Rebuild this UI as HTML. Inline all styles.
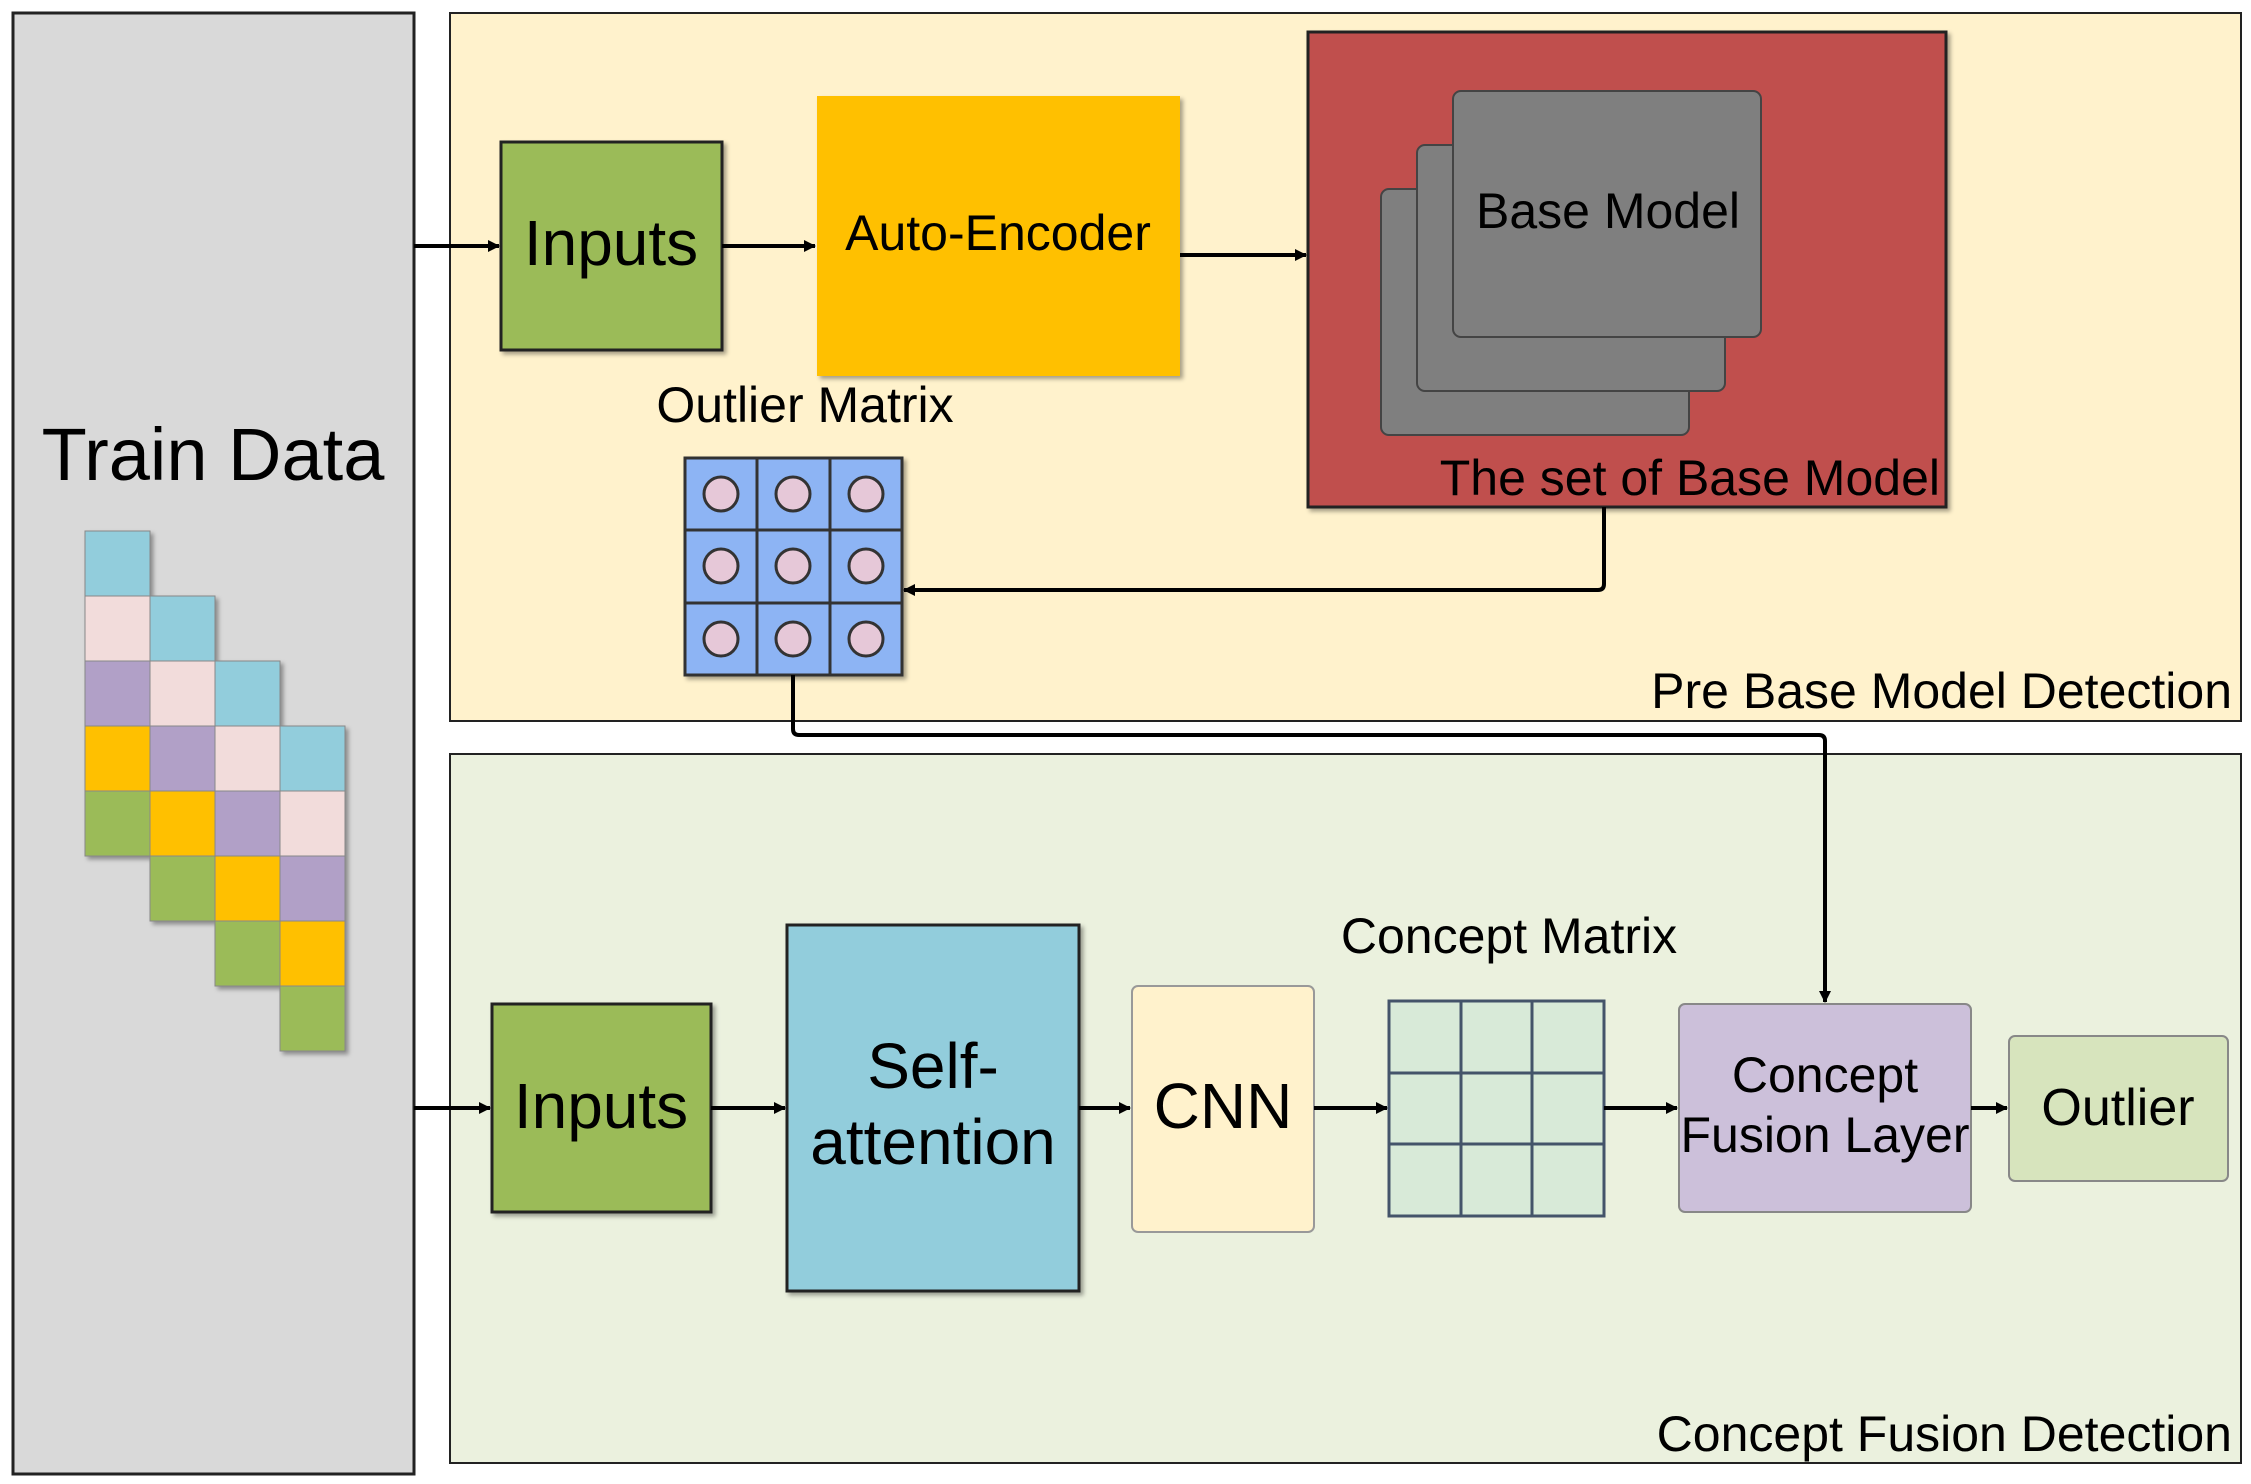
<!DOCTYPE html>
<html><head><style>body{margin:0;background:#fff}svg{display:block}text{font-family:"Liberation Sans",sans-serif;fill:#000}</style></head><body>
<svg width="2251" height="1484" viewBox="0 0 2251 1484" xmlns="http://www.w3.org/2000/svg">
<defs>
<marker id="a" markerWidth="12" markerHeight="12" refX="11" refY="6" orient="auto" markerUnits="userSpaceOnUse"><path d="M0,0 L12,6 L0,12 z" fill="#000"/></marker>
<filter id="s" x="-5%" y="-5%" width="115%" height="115%"><feDropShadow dx="3" dy="3" stdDeviation="2" flood-opacity="0.35"/></filter>
</defs>
<rect x="13" y="13" width="401" height="1461" fill="#d9d9d9" stroke="#222" stroke-width="3"/>
<text x="213" y="480" font-size="74" text-anchor="middle">Train Data</text>
<g stroke="#888" stroke-width="1" filter="url(#s)">
<rect x="85" y="531" width="65" height="65" fill="#92cddc"/><rect x="85" y="596" width="65" height="65" fill="#f2dcdb"/><rect x="85" y="661" width="65" height="65" fill="#b1a0c7"/><rect x="85" y="726" width="65" height="65" fill="#ffc000"/><rect x="85" y="791" width="65" height="65" fill="#9bbb59"/>
<rect x="150" y="596" width="65" height="65" fill="#92cddc"/><rect x="150" y="661" width="65" height="65" fill="#f2dcdb"/><rect x="150" y="726" width="65" height="65" fill="#b1a0c7"/><rect x="150" y="791" width="65" height="65" fill="#ffc000"/><rect x="150" y="856" width="65" height="65" fill="#9bbb59"/>
<rect x="215" y="661" width="65" height="65" fill="#92cddc"/><rect x="215" y="726" width="65" height="65" fill="#f2dcdb"/><rect x="215" y="791" width="65" height="65" fill="#b1a0c7"/><rect x="215" y="856" width="65" height="65" fill="#ffc000"/><rect x="215" y="921" width="65" height="65" fill="#9bbb59"/>
<rect x="280" y="726" width="65" height="65" fill="#92cddc"/><rect x="280" y="791" width="65" height="65" fill="#f2dcdb"/><rect x="280" y="856" width="65" height="65" fill="#b1a0c7"/><rect x="280" y="921" width="65" height="65" fill="#ffc000"/><rect x="280" y="986" width="65" height="65" fill="#9bbb59"/>
</g>
<rect x="450" y="13" width="1791" height="708" fill="#fff2cc" stroke="#222" stroke-width="2"/>
<text x="2232" y="708" font-size="50" text-anchor="end">Pre Base Model Detection</text>
<rect x="501" y="142" width="221" height="208" fill="#9bbb59" stroke="#222" stroke-width="3" filter="url(#s)"/>
<text x="611" y="265" font-size="64" text-anchor="middle">Inputs</text>
<rect x="817" y="96" width="363" height="280" fill="#ffc000" filter="url(#s)"/>
<text x="998" y="250" font-size="50" text-anchor="middle">Auto-Encoder</text>
<rect x="1308" y="32" width="638" height="475" fill="#c0504d" stroke="#222" stroke-width="3" filter="url(#s)"/>
<rect x="1381" y="189" width="308" height="246" rx="8" fill="#7f7f7f" stroke="#444" stroke-width="2"/>
<rect x="1417" y="145" width="308" height="246" rx="8" fill="#7f7f7f" stroke="#444" stroke-width="2"/>
<rect x="1453" y="91" width="308" height="246" rx="8" fill="#7f7f7f" stroke="#444" stroke-width="2"/>
<text x="1608" y="228" font-size="50" text-anchor="middle">Base Model</text>
<text x="1940" y="495" font-size="50" text-anchor="end">The set of Base Model</text>
<text x="805" y="422" font-size="50" text-anchor="middle">Outlier Matrix</text>
<g filter="url(#s)"><rect x="685" y="458" width="217" height="217" fill="#8db4f4" stroke="#333" stroke-width="3"/></g>
<g stroke="#333" stroke-width="3"><line x1="757" y1="458" x2="757" y2="675"/><line x1="830" y1="458" x2="830" y2="675"/><line x1="685" y1="530" x2="902" y2="530"/><line x1="685" y1="603" x2="902" y2="603"/></g>
<g fill="#e6c8d8" stroke="#333" stroke-width="3">
<circle cx="721" cy="494" r="17"/><circle cx="793" cy="494" r="17"/><circle cx="866" cy="494" r="17"/>
<circle cx="721" cy="566" r="17"/><circle cx="793" cy="566" r="17"/><circle cx="866" cy="566" r="17"/>
<circle cx="721" cy="639" r="17"/><circle cx="793" cy="639" r="17"/><circle cx="866" cy="639" r="17"/></g>
<rect x="450" y="754" width="1791" height="709" fill="#ebf1de" stroke="#222" stroke-width="2"/>
<text x="2232" y="1451" font-size="50" text-anchor="end">Concept Fusion Detection</text>
<rect x="492" y="1004" width="219" height="208" fill="#9bbb59" stroke="#222" stroke-width="3" filter="url(#s)"/>
<text x="601" y="1128" font-size="64" text-anchor="middle">Inputs</text>
<rect x="787" y="925" width="292" height="366" fill="#92cddc" stroke="#222" stroke-width="3" filter="url(#s)"/>
<text x="933" y="1088" font-size="64" text-anchor="middle">Self-</text>
<text x="933" y="1164" font-size="64" text-anchor="middle">attention</text>
<rect x="1132" y="986" width="182" height="246" rx="6" fill="#fff2cc" stroke="#999" stroke-width="2"/>
<text x="1223" y="1128" font-size="64" text-anchor="middle">CNN</text>
<text x="1509" y="953" font-size="50" text-anchor="middle">Concept Matrix</text>
<rect x="1389" y="1001" width="215" height="215" fill="#d8ead8" stroke="#44546a" stroke-width="3"/>
<g stroke="#44546a" stroke-width="3"><line x1="1461" y1="1001" x2="1461" y2="1216"/><line x1="1532" y1="1001" x2="1532" y2="1216"/><line x1="1389" y1="1073" x2="1604" y2="1073"/><line x1="1389" y1="1144" x2="1604" y2="1144"/></g>
<rect x="1679" y="1004" width="292" height="208" rx="6" fill="#ccc0da" stroke="#888" stroke-width="2"/>
<text x="1825" y="1092" font-size="50" text-anchor="middle">Concept</text>
<text x="1825" y="1152" font-size="50" text-anchor="middle">Fusion Layer</text>
<rect x="2009" y="1036" width="219" height="145" rx="6" fill="#d7e4bd" stroke="#888" stroke-width="2"/>
<text x="2118" y="1125" font-size="52" text-anchor="middle">Outlier</text>
<g stroke="#000" stroke-width="4" fill="none" marker-end="url(#a)">
<line x1="414" y1="246" x2="499" y2="246"/>
<line x1="722" y1="246" x2="815" y2="246"/>
<line x1="1180" y1="255" x2="1306" y2="255"/>
<path d="M1604,507 V584 Q1604,590 1598,590 H904"/>
<path d="M793,675 V729 Q793,735 799,735 H1819 Q1825,735 1825,741 V1002"/>
<line x1="414" y1="1108" x2="490" y2="1108"/>
<line x1="711" y1="1108" x2="785" y2="1108"/>
<line x1="1079" y1="1108" x2="1130" y2="1108"/>
<line x1="1314" y1="1108" x2="1387" y2="1108"/>
<line x1="1604" y1="1108" x2="1677" y2="1108"/>
<line x1="1971" y1="1108" x2="2007" y2="1108"/>
</g>
</svg>
</body></html>
